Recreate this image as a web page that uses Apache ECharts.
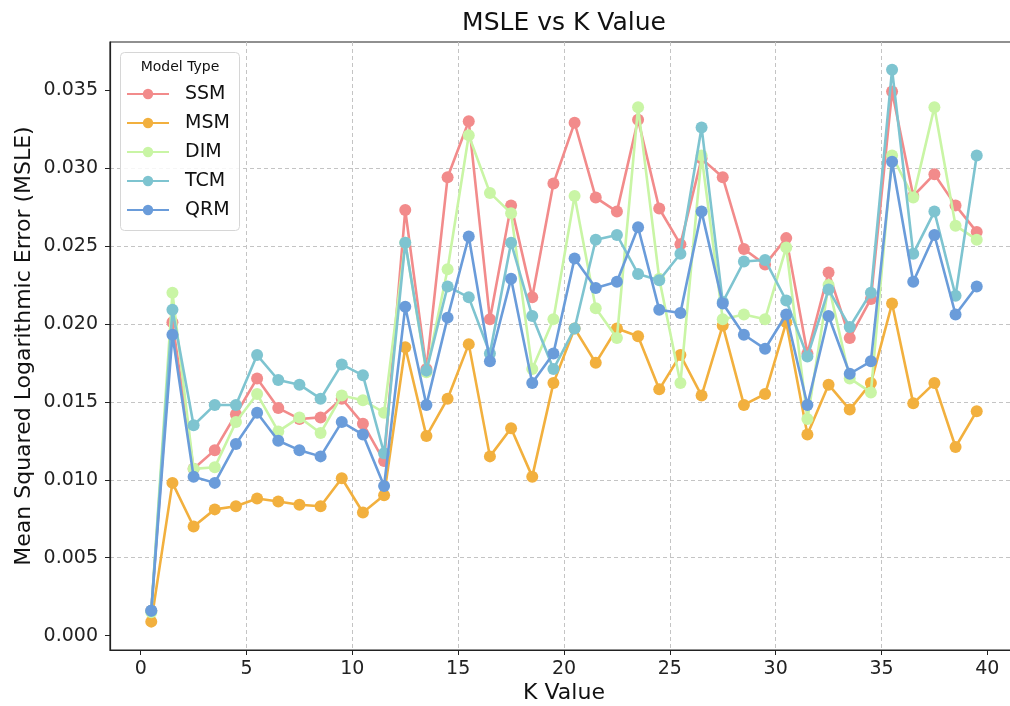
<!DOCTYPE html>
<html>
<head>
<meta charset="utf-8">
<script src="https://cdn.jsdelivr.net/npm/echarts@6/dist/echarts.min.js"></script>
<style>
html,body{margin:0;padding:0;background:#fff;}
#chart{width:1010px;height:706px;}
</style>
</head>
<body>
<div id="chart"></div>
<script>
const kValues = [0.5,1.5,2.5,3.5,4.5,5.5,6.5,7.5,8.5,9.5,10.5,11.5,12.5,13.5,14.5,15.5,16.5,17.5,18.5,19.5,20.5,21.5,22.5,23.5,24.5,25.5,26.5,27.5,28.5,29.5,30.5,31.5,32.5,33.5,34.5,35.5,36.5,37.5,38.5,39.5];
const seriesNames = ['SSM','MSM','DIM','TCM','QRM'];
const SSM = [0.0016,0.0201,0.0107,0.0119,0.0142,0.0165,0.0146,0.0139,0.0140,0.0152,0.0136,0.0112,0.0273,0.0171,0.0294,0.0330,0.0203,0.0276,0.0217,0.0290,0.0329,0.0281,0.0272,0.0331,0.0274,0.0251,0.0306,0.0294,0.0248,0.0238,0.0255,0.0181,0.0233,0.0191,0.0216,0.0349,0.0282,0.0296,0.0276,0.0259];
const MSM = [0.0009,0.0098,0.0070,0.0081,0.0083,0.0088,0.0086,0.0084,0.0083,0.0101,0.0079,0.0090,0.0185,0.0128,0.0152,0.0187,0.0115,0.0133,0.0102,0.0162,0.0197,0.0175,0.0197,0.0192,0.0158,0.0180,0.0154,0.0199,0.0148,0.0155,0.0201,0.0129,0.0161,0.0145,0.0162,0.0213,0.0149,0.0162,0.0121,0.0144];
const DIM = [0.0015,0.0220,0.0107,0.0108,0.0137,0.0155,0.0131,0.0140,0.0130,0.0154,0.0151,0.0143,0.0252,0.0169,0.0235,0.0321,0.0284,0.0271,0.0171,0.0203,0.0282,0.0210,0.0191,0.0339,0.0229,0.0162,0.0308,0.0203,0.0206,0.0203,0.0249,0.0139,0.0225,0.0165,0.0156,0.0308,0.0281,0.0339,0.0263,0.0254];
const TCM = [0.0016,0.0209,0.0135,0.0148,0.0148,0.0180,0.0164,0.0161,0.0152,0.0174,0.0167,0.0117,0.0252,0.0170,0.0224,0.0217,0.0181,0.0252,0.0205,0.0171,0.0197,0.0254,0.0257,0.0232,0.0228,0.0245,0.0326,0.0214,0.0240,0.0241,0.0215,0.0179,0.0222,0.0198,0.0220,0.0363,0.0245,0.0272,0.0218,0.0308];
const QRM = [0.0016,0.0193,0.0102,0.0098,0.0123,0.0143,0.0125,0.0119,0.0115,0.0137,0.0129,0.0096,0.0211,0.0148,0.0204,0.0256,0.0176,0.0229,0.0162,0.0181,0.0242,0.0223,0.0227,0.0262,0.0209,0.0207,0.0272,0.0213,0.0193,0.0184,0.0206,0.0148,0.0205,0.0168,0.0176,0.0304,0.0227,0.0257,0.0206,0.0224];
const xTicks = [0,5,10,15,20,25,30,35,40];
const yTicks = [0,0.005,0.010,0.015,0.020,0.025,0.030,0.035];

const colors = ['#F28B8B','#F2B03E','#C9F5A5','#7EC4D0','#6A9CDA'];
const allValues = [SSM,MSM,DIM,TCM,QRM];
const FONT = 'DejaVu Sans';

const chart = echarts.init(document.getElementById('chart'), null, {renderer:'canvas'});
const series = seriesNames.map((name,i)=>({
  name: name,
  type: 'line',
  data: kValues.map((k,j)=>[k, allValues[i][j]]),
  symbol: 'circle',
  symbolSize: 12,
  z: 2 + i*0.01,
  lineStyle: {width: 2.6, color: colors[i]},
  itemStyle: {color: colors[i], borderWidth: 0},
  emphasis: {disabled: true},
  animation: false
}));

chart.setOption({
  animation: false,
  textStyle: {fontFamily: FONT},
  grid: {left: 110, top: 42, width: 908, height: 608, outerBoundsMode: 'none', containLabel: false, show: true, borderColor: '#222', borderWidth: 1.2, backgroundColor: 'transparent'},
  xAxis: {
    type: 'value', min: -1.45, max: 41.45,
    axisLine: {show: true, onZero: false, lineStyle: {color: '#222', width: 1.2}},
    axisTick: {show: true, length: 5, lineStyle: {color: '#222', width: 1}, customValues: xTicks},
    axisLabel: {customValues: xTicks, fontSize: 19, color: '#222', margin: 10, fontFamily: FONT},
    splitLine: {show: true, showMinLine: false, showMaxLine: false, lineStyle: {color: '#c4c4c4', type: [4,3], width: 1}}
  },
  yAxis: {
    type: 'value', min: -0.00092, max: 0.03808,
    axisLine: {show: true, onZero: false, lineStyle: {color: '#222', width: 1.2}},
    axisTick: {show: true, length: 5, lineStyle: {color: '#222', width: 1}, customValues: yTicks},
    axisLabel: {customValues: yTicks, fontSize: 19, color: '#222', margin: 12, fontFamily: FONT, formatter: v => v.toFixed(3)},
    splitLine: {show: true, showMinLine: false, showMaxLine: false, lineStyle: {color: '#c4c4c4', type: [4,3], width: 1}}
  },
  legend: {
    data: seriesNames,
    orient: 'vertical',
    left: 126, top: 84,
    padding: 0,
    itemWidth: 42, itemHeight: 13, itemGap: 9,
    z: 10,
    textStyle: {fontSize: 19, lineHeight: 20, color: '#111', fontFamily: FONT, padding: [0,0,0,11]}
  },
  graphic: [
    {type: 'rect', z: 9, shape: {x: 120.5, y: 52.5, width: 119, height: 178, r: 4}, style: {fill: 'rgba(255,255,255,0.85)', stroke: '#d6d6d6', lineWidth: 1}},
    {type: 'text', z: 11, x: 180, y: 67, style: {text: 'Model Type', font: '14px "DejaVu Sans"', fill: '#111', textAlign: 'center', textVerticalAlign: 'middle'}},
    {type: 'text', z: 11, x: 564, y: 23, style: {text: 'MSLE vs K Value', font: '25px "DejaVu Sans"', fill: '#111', textAlign: 'center', textVerticalAlign: 'middle'}},
    {type: 'text', z: 11, x: 564, y: 693, style: {text: 'K Value', font: '22px "DejaVu Sans"', fill: '#111', textAlign: 'center', textVerticalAlign: 'middle'}},
    {type: 'text', z: 11, x: 24, y: 346, rotation: Math.PI/2, style: {text: 'Mean Squared Logarithmic Error (MSLE)', font: '22px "DejaVu Sans"', fill: '#111', textAlign: 'center', textVerticalAlign: 'middle'}}
  ],
  series: series
});
</script>
</body>
</html>
